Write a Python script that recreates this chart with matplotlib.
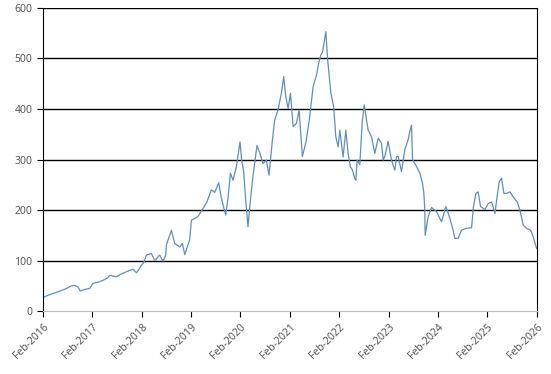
import datetime as dt
import matplotlib
matplotlib.use("Agg")
import matplotlib.pyplot as plt
import matplotlib.dates as mdates

# time in decimal years, price
years = [2016.083, 2016.178, 2016.286, 2016.381, 2016.488, 2016.584, 2016.659, 2016.726,
         2016.792, 2016.841, 2016.928, 2017.030, 2017.096, 2017.192, 2017.299, 2017.394,
         2017.435, 2017.571, 2017.658, 2017.773, 2017.907, 2017.976, 2018.023, 2018.078,
         2018.124, 2018.179, 2018.280, 2018.347, 2018.448, 2018.515, 2018.570, 2018.584,
         2018.685, 2018.752, 2018.854, 2018.908, 2018.955, 2019.056, 2019.091, 2019.224,
         2019.326, 2019.401, 2019.496, 2019.563, 2019.644, 2019.699, 2019.786, 2019.833,
         2019.881, 2019.934, 2020.003, 2020.076, 2020.110, 2020.151, 2020.192, 2020.238,
         2020.287, 2020.340, 2020.421, 2020.490, 2020.542, 2020.611, 2020.664, 2020.733,
         2020.779, 2020.846, 2020.915, 2020.962, 2021.002, 2021.049, 2021.097, 2021.150,
         2021.219, 2021.272, 2021.337, 2021.414, 2021.483, 2021.555, 2021.624, 2021.667,
         2021.712, 2021.746, 2021.813, 2021.850, 2021.915, 2021.971, 2022.016, 2022.063,
         2022.097, 2022.164, 2022.219, 2022.265, 2022.310, 2022.354, 2022.401, 2022.421,
         2022.448, 2022.502, 2022.549, 2022.590, 2022.638, 2022.671, 2022.739, 2022.806,
         2022.873, 2022.942, 2022.975, 2023.009, 2023.076, 2023.145, 2023.177, 2023.212,
         2023.246, 2023.279, 2023.347, 2023.414, 2023.481, 2023.516, 2023.550, 2023.571,
         2023.652, 2023.719, 2023.773, 2023.800, 2023.820, 2023.826, 2023.887, 2023.956,
         2024.057, 2024.158, 2024.246, 2024.327, 2024.394, 2024.428, 2024.495, 2024.564,
         2024.665, 2024.767, 2024.803, 2024.854, 2024.900, 2024.949, 2025.036, 2025.103,
         2025.172, 2025.239, 2025.273, 2025.325, 2025.374, 2025.420, 2025.475, 2025.542,
         2025.609, 2025.690, 2025.745, 2025.812, 2025.881, 2025.962, 2026.015, 2026.083]
price = [27, 31, 35, 38, 42, 46, 50, 51,
         48, 40, 43, 45, 55, 57, 61, 66,
         71, 68, 73, 78, 83, 76, 82, 91,
         96, 111, 114, 100, 111, 99, 111, 131,
         160, 134, 127, 134, 112, 141, 180, 187,
         203, 215, 240, 235, 254, 223, 190, 224,
         273, 259, 286, 335, 299, 276, 220, 167,
         220, 268, 328, 309, 292, 299, 269, 339,
         378, 398, 431, 464, 424, 401, 431, 365,
         372, 398, 306, 336, 382, 444, 467, 490,
         507, 512, 553, 497, 431, 405, 345, 325,
         358, 305, 358, 312, 286, 279, 262, 259,
         299, 290, 372, 408, 378, 358, 345, 312,
         342, 332, 299, 306, 336, 299, 289, 279,
         306, 306, 276, 319, 339, 356, 368, 300,
         286, 273, 253, 233, 200, 150, 187, 205,
         197, 177, 207, 184, 160, 144, 144, 160,
         164, 165, 205, 233, 236, 207, 201, 213,
         216, 193, 220, 256, 263, 233, 233, 236,
         226, 216, 200, 170, 164, 160, 147, 124]

dates = [dt.datetime(int(y), 1, 1) + dt.timedelta(days=(y - int(y)) * 365.25) for y in years]
tick_dates = [dt.datetime(yr, 2, 1) for yr in range(2016, 2027)]

plt.rcParams['font.family'] = ['Noto Sans', 'DejaVu Sans']

fig = plt.figure(figsize=(5.51, 3.74), dpi=100)
ax = fig.add_axes([0.078, 0.168, 0.896, 0.811])

ax.plot(dates, price, color='#5f8fc0', linewidth=0.9)

ax.set_ylim(0, 600)
ax.set_yticks(range(0, 601, 100))
ax.set_xlim(tick_dates[0], tick_dates[-1])
ax.set_xticks(tick_dates)
ax.xaxis.set_major_formatter(mdates.DateFormatter('%b-%Y'))

for v in range(100, 601, 100):
    ax.axhline(v, color='black', linewidth=1.0, zorder=0)

for lab in ax.get_xticklabels():
    lab.set_rotation(45)
    lab.set_ha('right')
    lab.set_rotation_mode('anchor')

ax.tick_params(axis='both', labelsize=7.5, colors='#595959', length=4, width=0.8)
ax.tick_params(axis='x', color='black')
ax.tick_params(axis='y', color='black')

ax.spines['left'].set_color('black')
ax.spines['right'].set_color('black')
ax.spines['top'].set_visible(False)
ax.spines['bottom'].set_color('#bfbfbf')

fig.savefig('out.png', dpi=100)
